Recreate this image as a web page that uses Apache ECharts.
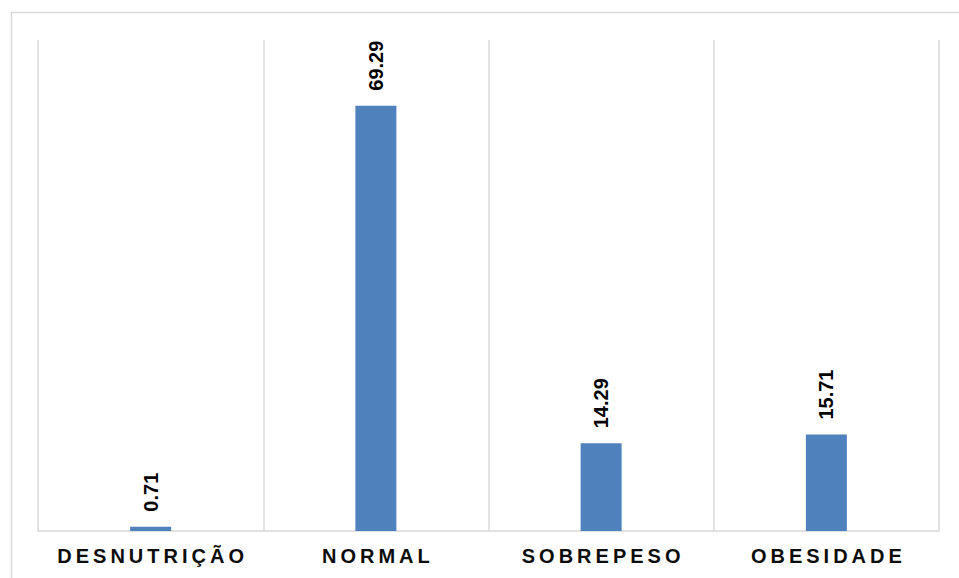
<!DOCTYPE html>
<html>
<head>
<meta charset="utf-8">
<script src="https://cdn.jsdelivr.net/npm/echarts@6/dist/echarts.min.js"></script>
<style>
  html, body { margin: 0; padding: 0; background: #fff; }
  #chart { width: 959px; height: 578px; }
  /* spaced-out capitals on the category axis */
  #chart text[style*="Liberation"] { letter-spacing: 4px; }
</style>
</head>
<body>
<div id="chart"></div>
<script>
const categories = ['DESNUTRIÇÃO', 'NORMAL', 'SOBREPESO', 'OBESIDADE'];
const values = [0.71, 69.29, 14.29, 15.71];

const chart = echarts.init(document.getElementById('chart'), null, { renderer: 'svg' });

chart.setOption({
  animation: false,
  backgroundColor: '#ffffff',
  graphic: [{
    type: 'rect',
    left: 9, top: 10,
    shape: { width: 980, height: 600 },
    style: { fill: 'none', stroke: '#d9d9d9', lineWidth: 1.5 },
    silent: true
  }],
  grid: { left: 38, right: 20, top: 40, bottom: 47 },
  xAxis: {
    type: 'category',
    data: categories,
    boundaryGap: true,
    axisLine: { show: true, lineStyle: { color: '#d9d9d9', width: 1.5 } },
    axisTick: { show: false },
    splitLine: { show: true, lineStyle: { color: '#d9d9d9', width: 1.5 } },
    axisLabel: {
      color: '#0d0d0d',
      fontFamily: 'Liberation Sans',
      fontWeight: 'bold',
      fontSize: 20,
      margin: 15,
      padding: [0, 0, 0, 4],
      interval: 0
    }
  },
  yAxis: {
    type: 'value',
    min: 0,
    max: 80,
    show: false,
    splitLine: { show: false }
  },
  series: [{
    type: 'bar',
    data: values,
    barWidth: 41,
    itemStyle: { color: '#4f81bd' },
    label: {
      show: true,
      position: 'top',
      distance: 15,
      rotate: 90,
      align: 'left',
      verticalAlign: 'middle',
      color: '#000',
      fontFamily: 'Arial',
      fontWeight: 'bold',
      fontSize: 20,
      formatter: p => p.value.toFixed(2)
    }
  }]
});
</script>
</body>
</html>
